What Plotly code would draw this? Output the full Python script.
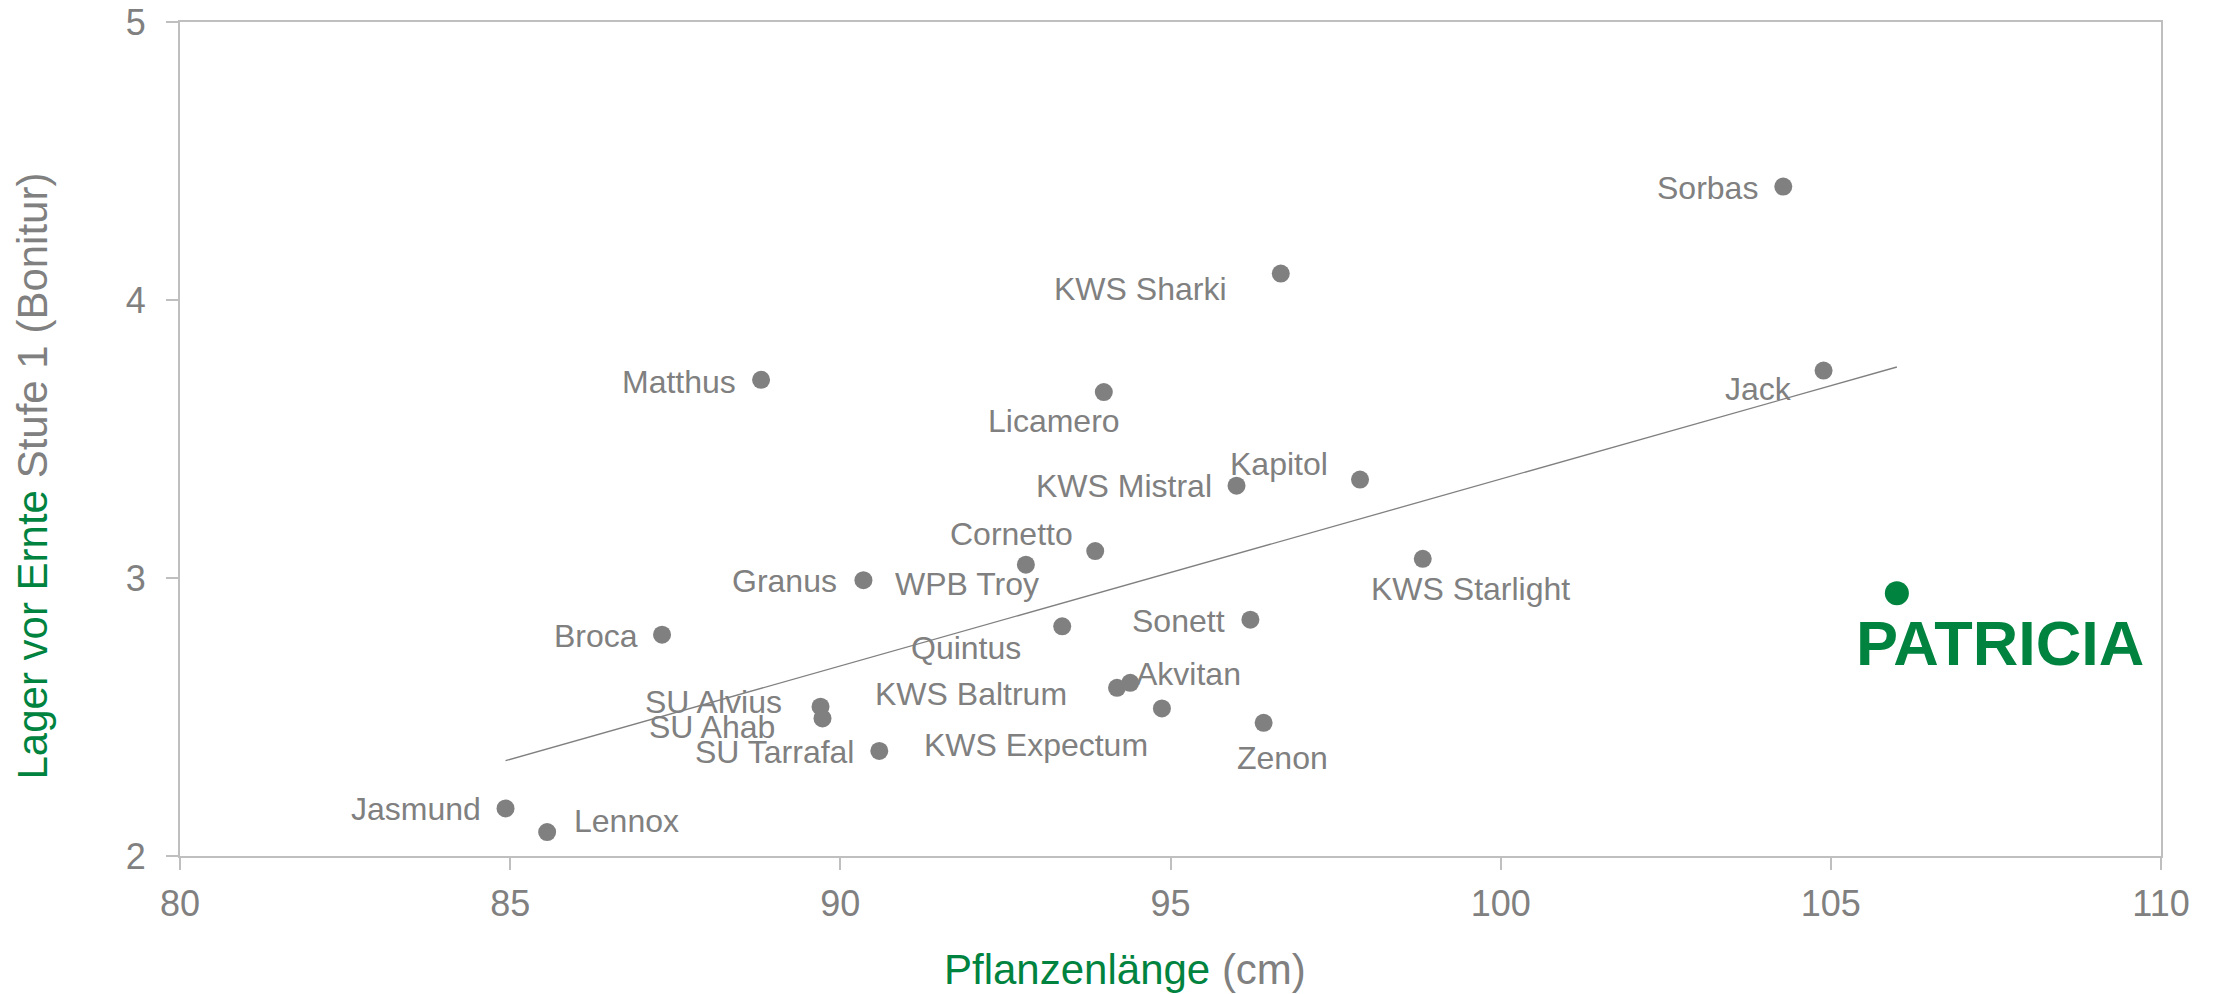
"""Lager vor Ernte vs. Pflanzenlänge – Sortenvergleich."""

import plotly.graph_objects as go

GREY = "#808080"
GREEN = "#00833F"
AXIS_GREY = "#BFBFBF"
FONT = "Liberation Sans, Arial, sans-serif"

# Sorten (ohne Hervorhebung)
sorten = [
    "Matthus", "Licamero", "KWS Sharki", "Sorbas", "Jack", "KWS Mistral",
    "Kapitol", "Cornetto", "WPB Troy", "Granus", "KWS Starlight", "Broca",
    "Quintus", "Sonett", "Akvitan", "KWS Baltrum", "KWS Expectum",
    "SU Alvius", "SU Ahab", "SU Tarrafal", "Zenon", "Jasmund", "Lennox",
]
pflanzenlaenge = [
    88.80, 93.99, 96.67, 104.28, 104.89, 96.00,
    97.87, 93.86, 92.81, 90.35, 98.82, 87.30,
    93.36, 96.21, 94.39, 94.19, 94.87,
    89.70, 89.73, 90.59, 96.41, 84.93, 85.56,
]
lager = [
    3.713, 3.669, 4.095, 4.408, 3.746, 3.332,
    3.354, 3.097, 3.048, 2.992, 3.069, 2.796,
    2.826, 2.850, 2.623, 2.605, 2.531,
    2.537, 2.495, 2.378, 2.479, 2.171, 2.086,
]

# hervorgehobene Sorte
highlight_name = "PATRICIA"
highlight_x = [106.0]
highlight_y = [2.945]

# Trendlinie
trend_x = [84.93, 106.0]
trend_y = [2.343, 3.759]

x_ticks = [80, 85, 90, 95, 100, 105, 110]
y_ticks = [2, 3, 4, 5]

# Beschriftungs-Platzierung: (Anker, dx px, dy px nach unten)
LABEL_POS = {
    "Matthus": ("right", -23, 2),
    "Licamero": ("center", -50, 29),
    "KWS Sharki": ("right", -53, 15),
    "Sorbas": ("right", -23, 1),
    "Jack": ("right", -30, 18),
    "KWS Mistral": ("right", -23, 0),
    "Kapitol": ("right", -30, -16),
    "Cornetto": ("right", -20, -17),
    "WPB Troy": ("center", -59, 19),
    "Granus": ("right", -24, 1),
    "KWS Starlight": ("center", 48, 30),
    "Broca": ("right", -22, 1),
    "Quintus": ("right", -39, 22),
    "Sonett": ("right", -23, 1),
    "Akvitan": ("left", 4, -9),
    "KWS Baltrum": ("right", -48, 6),
    "KWS Expectum": ("right", -12, 37),
    "SU Alvius": ("right", -37, -5),
    "SU Ahab": ("right", -46, 9),
    "SU Tarrafal": ("right", -23, 1),
    "Zenon": ("center", 19, 35),
    "Jasmund": ("right", -23, 1),
    "Lennox": ("left", 25, -11),
}

fig = go.Figure()

fig.add_trace(
    go.Scatter(
        x=trend_x, y=trend_y, mode="lines",
        line=dict(color=GREY, width=1.3),
        hoverinfo="skip", showlegend=False,
    )
)
fig.add_trace(
    go.Scatter(
        x=pflanzenlaenge, y=lager, mode="markers", text=sorten,
        marker=dict(color=GREY, size=18),
        hovertemplate="%{text}<br>%{x} cm<br>%{y}<extra></extra>",
        showlegend=False,
    )
)
fig.add_trace(
    go.Scatter(
        x=highlight_x, y=highlight_y, mode="markers",
        marker=dict(color=GREEN, size=24),
        hovertemplate=highlight_name + "<br>%{x} cm<br>%{y}<extra></extra>",
        showlegend=False,
    )
)

annotations = []
for name, xv, yv in zip(sorten, pflanzenlaenge, lager):
    anchor, dx, dy = LABEL_POS[name]
    annotations.append(dict(
        x=xv, y=yv, xref="x", yref="y", text=name, showarrow=False,
        xanchor=anchor, yanchor="middle", xshift=dx, yshift=-dy,
        font=dict(family=FONT, size=32, color=GREY),
    ))

annotations.append(dict(
    x=highlight_x[0], y=highlight_y[0], xref="x", yref="y",
    text="<b>" + highlight_name + "</b>", showarrow=False,
    xanchor="center", yanchor="middle", xshift=103, yshift=-50,
    font=dict(family=FONT, size=63, color=GREEN),
))

# Achsentitel
annotations.append(dict(
    x=0.477, y=-0.1355, xref="paper", yref="paper", showarrow=False,
    xanchor="center", yanchor="middle",
    text=f"<span style='color:{GREEN}'>Pflanzenlänge</span> (cm)",
    font=dict(family=FONT, size=42, color=GREY),
))
annotations.append(dict(
    x=-0.0742, y=0.455, xref="paper", yref="paper", showarrow=False,
    xanchor="center", yanchor="middle", textangle=-90,
    text=f"<span style='color:{GREEN}'>Lager vor Ernte</span> Stufe 1 (Bonitur)",
    font=dict(family=FONT, size=42, color=GREY),
))

axis_style = dict(
    showline=True, linecolor=AXIS_GREY, linewidth=2, mirror=True,
    ticks="outside", ticklen=12, tickwidth=2, tickcolor=AXIS_GREY,
    showgrid=False, zeroline=False, automargin=False,
    tickfont=dict(family=FONT, size=36, color=GREY),
)

fig.update_layout(
    width=2216, height=994,
    margin=dict(l=180, r=55, t=22, b=138),
    paper_bgcolor="white", plot_bgcolor="white",
    font=dict(family=FONT, color=GREY),
    xaxis=dict(range=[80, 110], tickvals=x_ticks, ticklabelstandoff=3, **axis_style),
    yaxis=dict(range=[2, 5], tickvals=y_ticks, ticklabelstandoff=13, **axis_style),
    annotations=annotations,
)

fig.write_html(
    "out.html",
    config={"displayModeBar": False},
    post_script="document.body.style.margin='0';document.body.style.overflow='hidden';",
)
